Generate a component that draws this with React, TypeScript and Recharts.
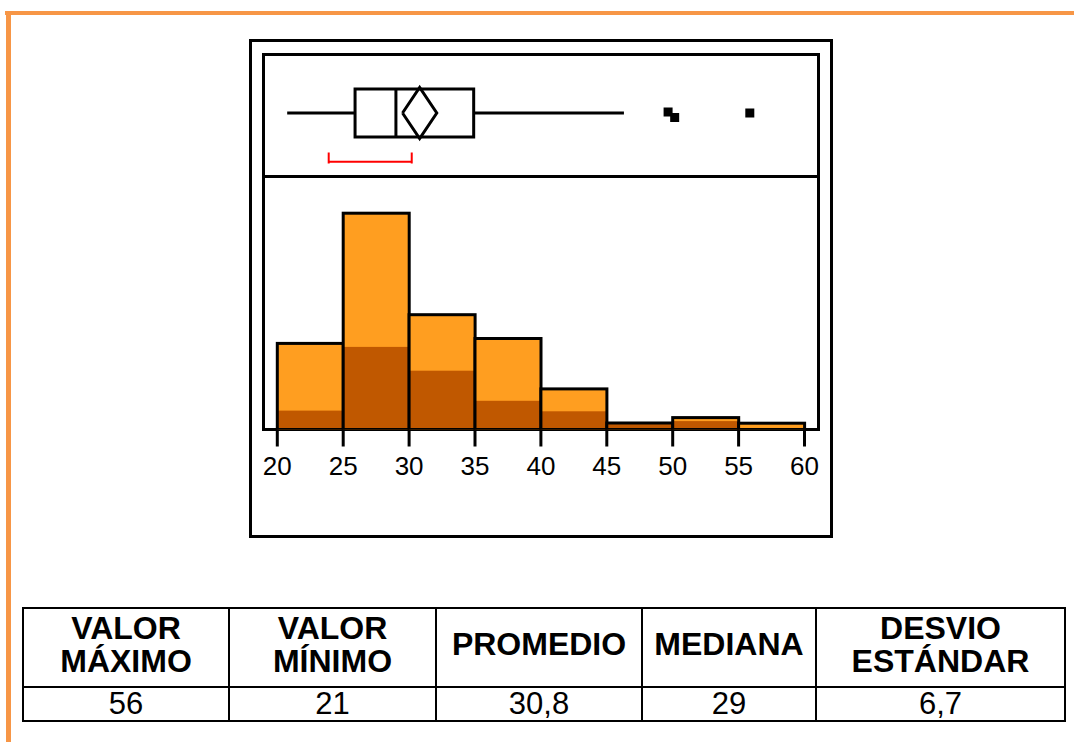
import React from "react";
import {
  ComposedChart,
  Bar,
  Line,
  Scatter,
  XAxis,
  YAxis,
  ReferenceLine,
  ReferenceArea,
} from "recharts";

// histogram bins (5 units wide), total height and darker inner part
const BINS = ["20-25", "25-30", "30-35", "35-40", "40-45", "45-50", "50-55", "55-60"];
const BIN_START = [20, 25, 30, 35, 40, 45, 50, 55];
const TOTAL = [12.3, 30.9, 16.4, 13.0, 5.8, 0.93, 1.7, 0.9];
const DARK = [2.7, 11.8, 8.4, 4.1, 2.6, 0.93, 1.2, 0];
const X_TICKS = [20, 25, 30, 35, 40, 45, 50, 55, 60];

// box plot summary (x in data units, y is a dimensionless vertical offset)
const WHISKER_LOW = 20.75;
const Q1 = 25.9;
const MEDIAN = 29;
const Q3 = 34.9;
const WHISKER_HIGH = 46.3;
const BOX_HALF = 24;
const DIAMOND_X = [29.5, 30.8, 32.1, 30.8, 29.5];
const DIAMOND_Y = [0, 25.5, 0, -25.5, 0];
const OUTLIER_X = [49.65, 50.15, 55.85];
const OUTLIER_Y = [1, -4.5, 0];
// red bracket (shortest half)
const SHORTH = [23.9, 30.2];
const SHORTH_Y = -48.7;
const SHORTH_TICK = [-39.5, -50.5];

const HEADERS = [["VALOR", "MÁXIMO"], ["VALOR", "MÍNIMO"], ["PROMEDIO"], ["MEDIANA"], ["DESVIO", "ESTÁNDAR"]];
const VALUES = ["56", "21", "30,8", "29", "6,7"];
const COL_WIDTHS = [206, 207, 206, 174, 249];

const FONT = '"Liberation Sans", Arial, sans-serif';
const LIGHT = "#FF9E20";
const DARK_FILL = "#C05800";

const histData = BINS.map((bin, i) => ({ bin, start: BIN_START[i], total: TOTAL[i], dark: DARK[i] }));
const diamondData = DIAMOND_X.map((x, i) => ({ x, y: DIAMOND_Y[i] }));
const outlierData = OUTLIER_X.map((x, i) => ({ x, y: OUTLIER_Y[i] }));

function HistBar(props: any) {
  const { x, y, width, height, payload } = props;
  if (x == null || height == null || height <= 0) return <g />;
  const darkH = payload.total > 0 ? (height * payload.dark) / payload.total : 0;
  return (
    <g>
      <rect x={x} y={y} width={width} height={height} fill={LIGHT} />
      {darkH > 0 && (
        <rect x={x} y={y + height - darkH} width={width} height={darkH} fill={DARK_FILL} />
      )}
      <rect x={x} y={y} width={width} height={height} fill="none" stroke="#000" strokeWidth={3} />
    </g>
  );
}

function SquareDot(props: any) {
  const { cx, cy } = props;
  if (cx == null || cy == null) return <g />;
  const s = 9;
  return <rect x={cx - s / 2} y={cy - s / 2} width={s} height={s} fill="#000" />;
}

const BOX_LINE = { stroke: "#000", strokeWidth: 3 };

function BoxPlot() {
  return (
    <ComposedChart
      width={558}
      height={120}
      margin={{ top: 0, right: 15.5, bottom: 0, left: 15.3 }}
    >
      <XAxis dataKey="x" type="number" domain={[20, 60]} allowDataOverflow hide />
      <YAxis dataKey="y" type="number" domain={[-62, 58]} allowDataOverflow hide />
      <ReferenceLine segment={[{ x: WHISKER_LOW, y: 0 }, { x: Q1, y: 0 }]} {...BOX_LINE} />
      <ReferenceLine segment={[{ x: Q3, y: 0 }, { x: WHISKER_HIGH, y: 0 }]} {...BOX_LINE} />
      <ReferenceArea
        x1={Q1}
        x2={Q3}
        y1={-BOX_HALF}
        y2={BOX_HALF}
        fill="none"
        fillOpacity={0}
        {...BOX_LINE}
      />
      <ReferenceLine segment={[{ x: MEDIAN, y: -BOX_HALF }, { x: MEDIAN, y: BOX_HALF }]} {...BOX_LINE} />
      <Line
        data={diamondData}
        dataKey="y"
        type="linear"
        stroke="#000"
        strokeWidth={3}
        dot={false}
        activeDot={false}
        isAnimationActive={false}
      />
      <Scatter data={outlierData} shape={<SquareDot />} isAnimationActive={false} />
      <ReferenceLine
        segment={[{ x: SHORTH[0], y: SHORTH_Y }, { x: SHORTH[1], y: SHORTH_Y }]}
        stroke="#FF0000"
        strokeWidth={2}
      />
      <ReferenceLine
        segment={[{ x: SHORTH[0], y: SHORTH_TICK[0] }, { x: SHORTH[0], y: SHORTH_TICK[1] }]}
        stroke="#FF0000"
        strokeWidth={2}
      />
      <ReferenceLine
        segment={[{ x: SHORTH[1], y: SHORTH_TICK[0] }, { x: SHORTH[1], y: SHORTH_TICK[1] }]}
        stroke="#FF0000"
        strokeWidth={2}
      />
    </ComposedChart>
  );
}

function Histogram() {
  return (
    <ComposedChart
      width={558}
      height={320}
      data={histData}
      barCategoryGap={0}
      barGap={0}
      margin={{ top: 6.5, right: 15.5, bottom: 0, left: 15.3 }}
    >
      <XAxis xAxisId="cat" dataKey="bin" type="category" height={0} hide />
      <XAxis
        xAxisId="num"
        dataKey="start"
        type="number"
        domain={[20, 60]}
        ticks={X_TICKS}
        allowDataOverflow
        height={68.5}
        axisLine={false}
        tickSize={17}
        tickMargin={10}
        tickLine={{ stroke: "#000", strokeWidth: 3 }}
        tick={{ fill: "#000", fontSize: 26, fontFamily: FONT }}
        interval={0}
      />
      <YAxis type="number" domain={[0, 35]} allowDataOverflow hide />
      <Bar
        xAxisId="cat"
        dataKey="total"
        shape={<HistBar />}
        isAnimationActive={false}
      />
    </ComposedChart>
  );
}

const cell: React.CSSProperties = {
  border: "2px solid #000",
  textAlign: "center",
  padding: 0,
};

export default function App() {
  return (
    <div
      style={{
        position: "absolute",
        left: 0,
        top: 0,
        width: 1074,
        height: 742,
        background: "#fff",
        overflow: "hidden",
        fontFamily: FONT,
      }}
    >
      {/* orange page border */}
      <div style={{ position: "absolute", left: 5, top: 11, width: 1069, height: 4, background: "#F79646" }} />
      <div style={{ position: "absolute", left: 6, top: 11, width: 5, height: 731, background: "#F79646" }} />

      {/* outer and inner frames */}
      <div
        style={{
          position: "absolute",
          left: 249,
          top: 39,
          width: 584,
          height: 499,
          border: "3px solid #000",
          boxSizing: "border-box",
        }}
      />
      <div
        style={{
          position: "absolute",
          left: 262,
          top: 53,
          width: 558,
          height: 378,
          border: "3px solid #000",
          boxSizing: "border-box",
        }}
      />
      <div style={{ position: "absolute", left: 262, top: 175, width: 558, height: 3, background: "#000" }} />

      <div style={{ position: "absolute", left: 262, top: 55 }}>
        <BoxPlot />
      </div>
      <div style={{ position: "absolute", left: 262, top: 178 }}>
        <Histogram />
      </div>

      <table
        style={{
          position: "absolute",
          left: 22,
          top: 607,
          borderCollapse: "collapse",
          tableLayout: "fixed",
          width: 1042,
        }}
      >
        <colgroup>
          {COL_WIDTHS.map((w, i) => (
            <col key={i} style={{ width: w }} />
          ))}
        </colgroup>
        <tbody>
          <tr style={{ height: 79 }}>
            {HEADERS.map((lines, i) => (
              <td
                key={i}
                style={{ ...cell, fontWeight: "bold", fontSize: 32, lineHeight: "33px", paddingBottom: 6 }}
              >
                {lines.map((l, j) => (
                  <div key={j}>{l}</div>
                ))}
              </td>
            ))}
          </tr>
          <tr style={{ height: 34 }}>
            {VALUES.map((v, i) => (
              <td key={i} style={{ ...cell, fontSize: 31, lineHeight: "30px" }}>
                {v}
              </td>
            ))}
          </tr>
        </tbody>
      </table>
    </div>
  );
}
